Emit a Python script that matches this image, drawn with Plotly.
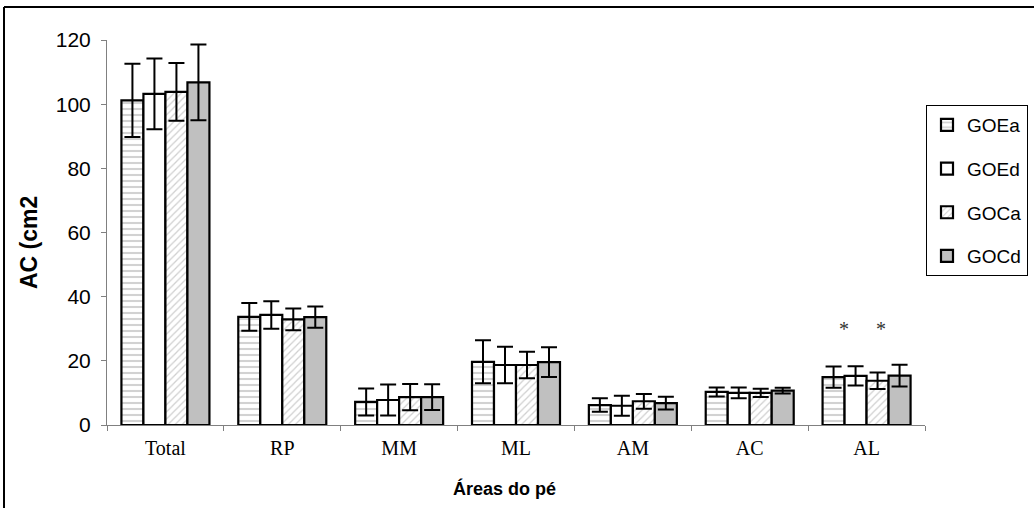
import plotly.graph_objects as go

categories = ["Total", "RP", "MM", "ML", "AM", "AC", "AL"]
series_names = ["GOEa", "GOEd", "GOCa", "GOCd"]
GOEa = [101.2, 33.7, 7.2, 19.7, 6.2, 10.3, 14.9]
GOEa_sd = [11.4, 4.3, 4.2, 6.7, 2.1, 1.4, 3.3]
GOEd = [103.2, 34.3, 7.8, 18.7, 6.0, 10.0, 15.3]
GOEd_sd = [11.0, 4.3, 4.8, 5.7, 3.1, 1.7, 3.0]
GOCa = [103.8, 32.9, 8.7, 18.7, 7.4, 10.0, 13.8]
GOCa_sd = [9.0, 3.4, 4.1, 4.1, 2.3, 1.3, 2.6]
GOCd = [106.8, 33.6, 8.7, 19.6, 6.8, 10.7, 15.4]
GOCd_sd = [11.8, 3.3, 4.0, 4.6, 2.0, 0.9, 3.4]
y_ticks = [0, 20, 40, 60, 80, 100, 120]
star_category = "AL"
star_value = 30

values = [GOEa, GOEd, GOCa, GOCd]
sds = [GOEa_sd, GOEd_sd, GOCa_sd, GOCd_sd]
fills = [
    dict(color="white", pattern=dict(shape="-", fgcolor="#a6a6a6", bgcolor="white", size=6, solidity=0.35)),
    dict(color="white"),
    dict(color="white", pattern=dict(shape="/", fgcolor="#a0a0a0", bgcolor="white", size=5, solidity=0.25)),
    dict(color="#c0c0c0"),
]

fig = go.Figure()
for name, v, sd, f in zip(series_names, values, sds, fills):
    marker = dict(line=dict(color="black", width=2.2), **f)
    fig.add_trace(go.Bar(
        x=categories, y=v, name=name, legendgroup=name, marker=marker,
        error_y=dict(type="data", array=sd, visible=True, color="black", thickness=2, width=8),
    ))

W, H = 1034, 508
L, T = 107, 40
pw, ph = 818, 385
R = W - L - pw
B = H - T - ph

def px_x(px):
    return (px - L) / pw

def px_y(py):
    return (T + ph - py) / ph

fig.update_layout(
    width=W, height=H,
    margin=dict(l=L, r=R, t=T, b=B, autoexpand=False),
    paper_bgcolor="white", plot_bgcolor="white",
    barmode="group", bargap=0.247, bargroupgap=0,
    showlegend=True,
    legend=dict(
        x=px_x(926), xanchor="left", y=px_y(105), yanchor="top",
        bordercolor="black", borderwidth=1, bgcolor="white",
        font=dict(family="Liberation Sans, Arial", size=19, color="black"),
        traceorder="grouped", tracegroupgap=16,
        entrywidth=80,
    ),
    xaxis=dict(
        showline=True, linecolor="#808080", linewidth=1,
        ticks="outside", tickson="boundaries", ticklen=5, tickcolor="#808080",
        tickfont=dict(family="Liberation Serif, Times New Roman", size=20, color="black"),
        ticklabelstandoff=5,
        showgrid=False, zeroline=False,
    ),
    yaxis=dict(
        range=[0, 120], tickvals=y_ticks,
        showline=True, linecolor="#808080", linewidth=1,
        ticks="outside", ticklen=5, tickcolor="#808080",
        tickfont=dict(family="Liberation Sans, Arial", size=21, color="black"),
        ticklabelstandoff=6,
        showgrid=False, zeroline=False,
    ),
    annotations=[
        dict(text="<b>Áreas do pé</b>", xref="paper", yref="paper", x=px_x(504), y=px_y(488),
             xanchor="center", yanchor="middle", showarrow=False,
             font=dict(family="Liberation Sans, Arial", size=18, color="black")),
        dict(text="<b>AC (cm2</b>", xref="paper", yref="paper", x=px_x(29), y=px_y(243),
             xanchor="center", yanchor="middle", showarrow=False, textangle=-90,
             font=dict(family="Liberation Sans, Arial", size=23, color="black")),
        dict(text="*", x=star_category, y=star_value, xref="x", yref="y", xshift=-23,
             showarrow=False, font=dict(family="Liberation Serif", size=20, color="#333")),
        dict(text="*", x=star_category, y=star_value, xref="x", yref="y", xshift=14,
             showarrow=False, font=dict(family="Liberation Serif", size=20, color="#333")),
    ],
    shapes=[
        dict(type="line", xref="paper", yref="paper", x0=px_x(4), x1=px_x(1050), y0=px_y(7), y1=px_y(7),
             line=dict(color="black", width=2)),
        dict(type="line", xref="paper", yref="paper", x0=px_x(4), x1=px_x(4), y0=px_y(7), y1=px_y(530),
             line=dict(color="black", width=2)),
    ],
)

fig.write_html("out.html", config={"displayModeBar": False},
               post_script="document.body.style.margin='0';")
